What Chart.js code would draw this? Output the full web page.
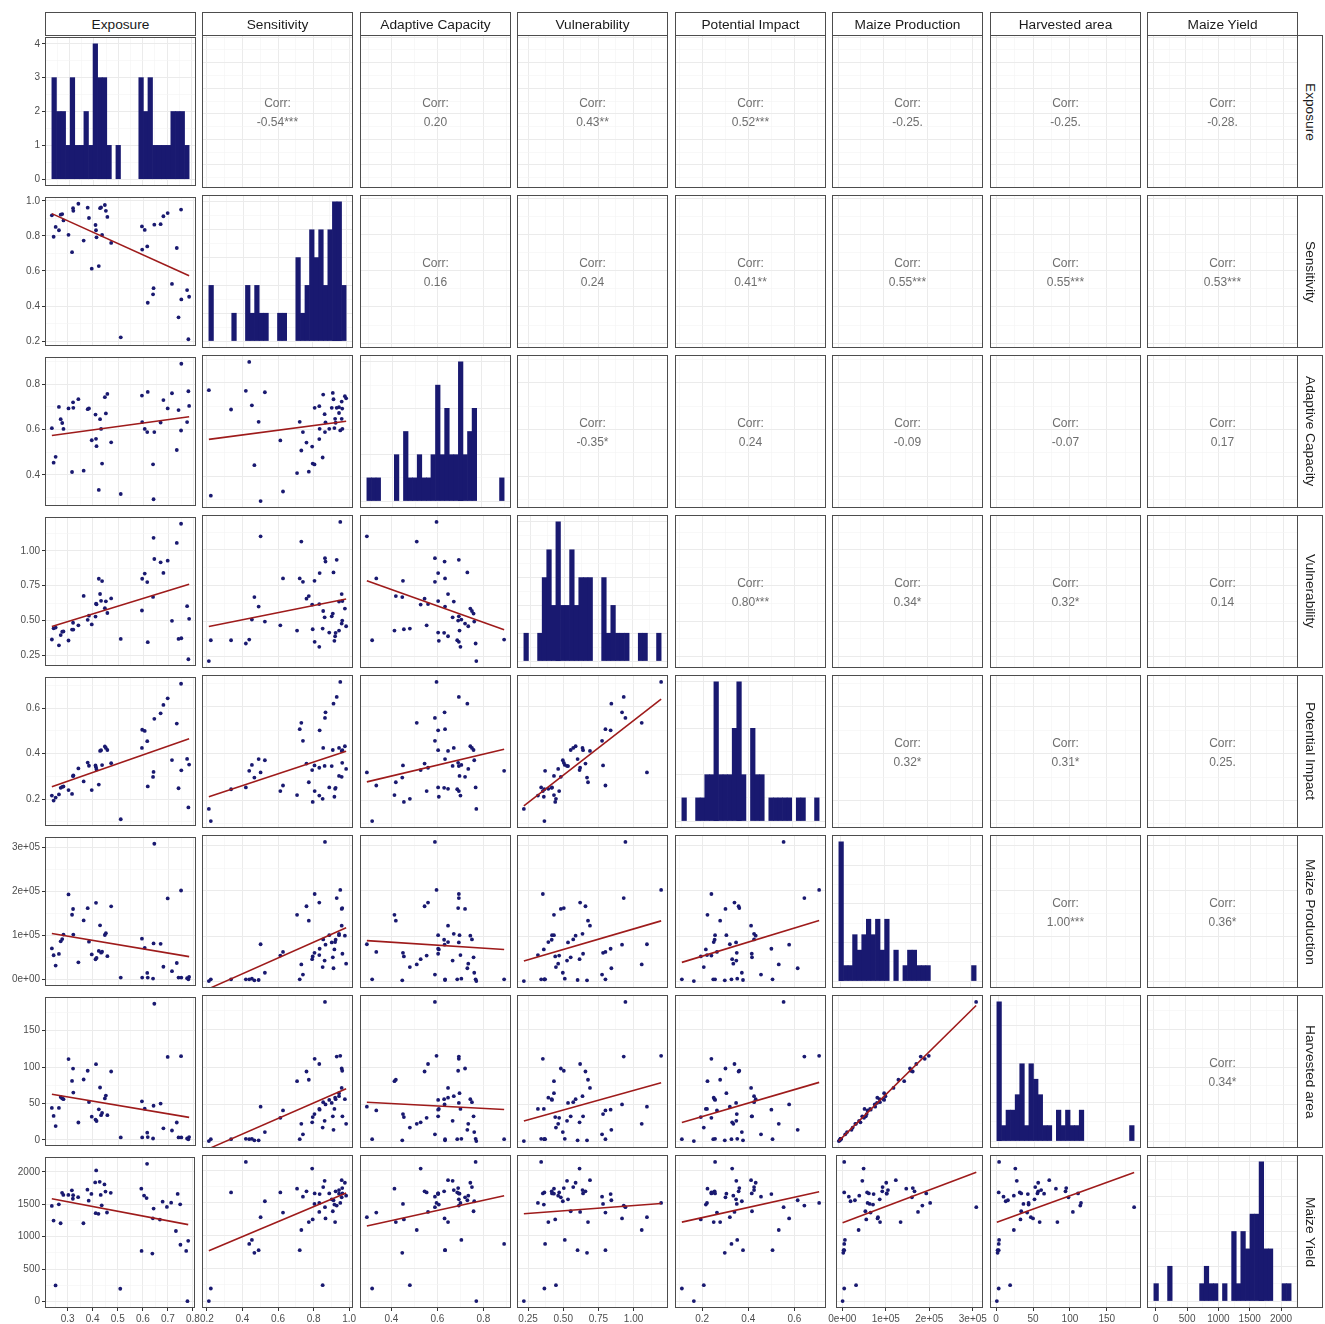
<!DOCTYPE html>
<html><head><meta charset="utf-8">
<script src="https://cdn.jsdelivr.net/npm/chart.js@4/dist/chart.umd.min.js"></script>
<style>
html,body{margin:0;padding:0;background:#fff;}
body{width:1325px;height:1324px;position:relative;overflow:hidden;font-family:"Liberation Sans",Arial,sans-serif;}
canvas{position:absolute;}
.strip{position:absolute;box-sizing:border-box;border:1px solid #4d4d4d;background:#fff;color:#1a1a1a;font-size:13.7px;display:flex;align-items:center;justify-content:center;white-space:nowrap;z-index:2;}
.strip.right{writing-mode:vertical-rl;}
.corr{position:absolute;text-align:center;color:#6e6e6e;font-size:12px;line-height:19px;z-index:3;}
</style></head><body>
<script>
// ---------------- DATA ----------------
const varNames = ["Exposure","Sensitivity","Adaptive Capacity","Vulnerability","Potential Impact","Maize Production","Harvested area","Maize Yield"];

const exposure = [0.237,0.244,0.252,0.265,0.272,0.278,0.283,0.303,0.317,0.321,0.322,0.342,0.363,0.379,0.384,0.395,0.410,0.412,0.414,0.423,0.428,0.432,0.436,0.447,0.451,0.457,0.472,0.510,0.594,0.595,0.605,0.615,0.617,0.638,0.640,0.643,0.668,0.679,0.696,0.713,0.732,0.739,0.749,0.750,0.773,0.778,0.781];
const sensitivity = [0.917,0.795,0.851,0.832,0.921,0.924,0.888,0.806,0.707,0.958,0.943,0.983,0.773,0.961,0.902,0.613,0.862,0.832,0.792,0.628,0.958,0.962,0.805,0.976,0.943,0.908,0.760,0.222,0.854,0.722,0.834,0.740,0.419,0.467,0.502,0.864,0.867,0.912,0.930,0.526,0.731,0.336,0.950,0.438,0.491,0.211,0.453];
const adaptiveCapacity = [0.606,0.454,0.480,0.700,0.646,0.629,0.603,0.693,0.413,0.720,0.696,0.734,0.419,0.690,0.693,0.553,0.666,0.559,0.527,0.334,0.646,0.603,0.450,0.743,0.671,0.757,0.544,0.316,0.750,0.633,0.603,0.589,0.766,0.447,0.293,0.589,0.631,0.730,0.693,0.760,0.510,0.686,0.596,0.890,0.633,0.769,0.704];
const vulnerability = [0.362,0.443,0.448,0.320,0.394,0.418,0.420,0.355,0.434,0.483,0.434,0.464,0.676,0.504,0.534,0.471,0.527,0.620,0.616,0.800,0.690,0.641,0.783,0.588,0.637,0.553,0.658,0.366,0.571,0.800,0.837,0.776,0.343,0.669,1.095,0.942,0.918,0.842,0.930,0.497,1.058,0.366,1.196,0.371,0.602,0.220,0.511];
const potentialImpact = [0.216,0.194,0.207,0.221,0.250,0.254,0.256,0.240,0.223,0.301,0.305,0.335,0.278,0.361,0.347,0.240,0.348,0.340,0.330,0.264,0.412,0.415,0.350,0.432,0.425,0.416,0.358,0.112,0.425,0.505,0.500,0.455,0.256,0.298,0.320,0.553,0.577,0.614,0.643,0.372,0.532,0.248,0.707,0.327,0.377,0.164,0.352];
const maizeProduction = [70600,55100,31600,58100,86800,91900,102000,193000,147000,160000,102000,39000,134000,162000,86000,57000,46000,174000,49000,65000,123000,61000,63000,101000,105000,53000,166000,4400,92600,4400,72000,15000,4400,2200,82000,308000,81000,29000,184000,19000,37500,4400,202000,4400,3000,700,6000];
const harvestedArea = [44,33,19,44,59,57,56,111,81,98,65,24,83,95,52,32,28,104,26,42,72,34,37,57,61,34,94,3.5,53,3.5,43,10,4,2,47,187,50,16,114,13,24,3.5,115,3.5,2,1,4];
const maizeYield = [1475,1249,247,1500,1208,1677,1646,1646,1717,1586,1641,1611,1208,1727,1556,1661,1838,1364,2024,1354,1848,1646,1485,1808,1697,1374,1677,196,1742,780,1636,1596,2125,740,1284,1435,1264,1541,1460,1526,1088,1661,1500,876,780,5,937];

// histogram counts (30 bins each)
const exposureCounts      = [3,2,2,1,3,1,1,2,1,4,3,3,1,0,1,0,0,0,0,3,2,3,1,1,1,1,2,2,2,1];
const sensitivityCounts   = [2,0,0,0,0,1,0,0,2,1,2,1,1,0,0,1,1,0,0,3,1,2,4,3,4,2,4,5,5,2];
const adaptiveCounts      = [1,1,1,0,0,0,2,0,3,1,1,2,1,1,2,5,2,4,2,2,6,2,3,4,0,0,0,0,0,1];
const vulnerabilityCounts = [1,0,0,1,3,4,2,5,2,2,4,2,3,3,3,0,0,3,1,2,1,1,1,0,0,1,1,0,0,1];
const impactCounts        = [1,0,0,1,1,2,2,6,2,2,2,4,6,2,0,4,2,2,0,1,1,1,1,1,0,1,1,0,0,1];
const productionCounts    = [9,1,1,3,2,3,4,3,4,2,4,0,2,0,1,2,2,1,1,1,0,0,0,0,0,0,0,0,0,1];
const harvestCounts       = [9,1,2,2,3,5,1,5,4,3,1,1,0,2,1,2,1,1,2,0,0,0,0,0,0,0,0,0,0,1];
const yieldCounts         = [1,0,0,2,0,0,0,0,0,0,1,2,1,1,0,1,0,4,1,4,3,5,5,8,3,3,0,0,1,1];

// axis tick values and labels
const exposureTicks = [0.3,0.4,0.5,0.6,0.7,0.8];
const exposureTickLabels = ["0.3","0.4","0.5","0.6","0.7","0.8"];
const sensitivityTicks = [0.2,0.4,0.6,0.8,1.0];
const sensitivityTickLabels = ["0.2","0.4","0.6","0.8","1.0"];
const adaptiveTicks = [0.4,0.6,0.8];
const adaptiveTickLabels = ["0.4","0.6","0.8"];
const vulnerabilityTicks = [0.25,0.5,0.75,1.0];
const vulnerabilityTickLabels = ["0.25","0.50","0.75","1.00"];
const impactTicks = [0.2,0.4,0.6];
const impactTickLabels = ["0.2","0.4","0.6"];
const productionTicks = [0,100000,200000,300000];
const productionTickLabels = ["0e+00","1e+05","2e+05","3e+05"];
const harvestTicks = [0,50,100,150];
const harvestTickLabels = ["0","50","100","150"];
const yieldTicks = [0,500,1000,1500,2000];
const yieldTickLabels = ["0","500","1000","1500","2000"];

// correlation labels (upper triangle, row by row)
const corrRow1 = ["-0.54***","0.20","0.43**","0.52***","-0.25.","-0.25.","-0.28."];
const corrRow2 = ["0.16","0.24","0.41**","0.55***","0.55***","0.53***"];
const corrRow3 = ["-0.35*","0.24","-0.09","-0.07","0.17"];
const corrRow4 = ["0.80***","0.34*","0.32*","0.14"];
const corrRow5 = ["0.32*","0.31*","0.25."];
const corrRow6 = ["1.00***","0.36*"];
const corrRow7 = ["0.34*"];

// ---------------- SETUP ----------------
const variables = [exposure,sensitivity,adaptiveCapacity,vulnerability,potentialImpact,maizeProduction,harvestedArea,maizeYield];
const histCounts = [exposureCounts,sensitivityCounts,adaptiveCounts,vulnerabilityCounts,impactCounts,productionCounts,harvestCounts,yieldCounts];
const tickVals = [exposureTicks,sensitivityTicks,adaptiveTicks,vulnerabilityTicks,impactTicks,productionTicks,harvestTicks,yieldTicks];
const tickLabs = [exposureTickLabels,sensitivityTickLabels,adaptiveTickLabels,vulnerabilityTickLabels,impactTickLabels,productionTickLabels,harvestTickLabels,yieldTickLabels];
const corrRows = [corrRow1,corrRow2,corrRow3,corrRow4,corrRow5,corrRow6,corrRow7];

const FONT = '"Liberation Sans", Arial, sans-serif';
const NAVY = '#191970';
const RED = '#9E1B1B';
const colLeft = [45,202,360,517,675,832,990,1147];
const rowTop = [35,195,355,515,675,835,995,1155];
const PW = 151, PH = 153;
const N = 8;

function dataLimits(arr){
  const mn = Math.min(...arr), mx = Math.max(...arr), e = (mx-mn)*0.05;
  return [mn-e, mx+e];
}
function histInfo(arr){
  const mn = Math.min(...arr), mx = Math.max(...arr);
  const w = (mx-mn)/29, lo = mn - w/2, hi = mx + w/2, e = (hi-lo)*0.05;
  return {w, lo, hi, lim:[lo-e, hi+e]};
}
function buildTicks(majors, labels, min, max){
  const step = majors.length>1 ? majors[1]-majors[0] : 1;
  const eps = Math.abs(step)*1e-6;
  const out = [];
  majors.forEach((m,i)=>{ if(m>=min-eps && m<=max+eps) out.push({v:m,major:true,label:labels[i]}); });
  for(let k=-1;k<majors.length;k++){
    const v = majors[0] + step*(k+0.5);
    if(v>=min && v<=max) out.push({v,major:false,label:''});
  }
  out.sort((a,b)=>a.v-b.v);
  return out;
}
function countMajors(maxC){
  const step = maxC<=5 ? 1 : (maxC<=8 ? 2 : 2.5);
  const v=[]; for(let x=0;x<=maxC*1.05+1e-9;x+=step) v.push(x);
  return v;
}
function scaleCfg(axis, lim, tk, showLabels, fixed){
  return {
    type:'linear', position: axis==='x'?'bottom':'left', min:lim[0], max:lim[1], offset:false,
    afterBuildTicks: sc => { sc.ticks = tk.map(t=>({value:t.v})); },
    afterFit: sc => { if(axis==='x') sc.height = fixed; else sc.width = fixed; },
    grid:{
      offset:false, drawOnChartArea:true,
      color: ctx => (tk[ctx.index] && tk[ctx.index].major) ? '#EBEBEB' : '#F3F3F3',
      lineWidth: ctx => (tk[ctx.index] && tk[ctx.index].major) ? 1 : 0.6,
      drawTicks: showLabels, tickLength:3, tickWidth:1,
      tickColor: ctx => (tk[ctx.index] && tk[ctx.index].major) ? '#333333' : 'rgba(0,0,0,0)'
    },
    border:{display:false},
    ticks:{display:showLabels, autoSkip:false, maxRotation:0, minRotation:0, padding:2,
      color:'#4D4D4D', font:{family:FONT,size:10},
      callback:(v,i)=> tk[i] ? tk[i].label : ''}
  };
}
const borderPlugin = {
  id:'panelBorder',
  afterDraw(chart){
    const {ctx, chartArea:a} = chart;
    ctx.save(); ctx.strokeStyle='#4D4D4D'; ctx.lineWidth=1;
    ctx.strokeRect(Math.round(a.left)+0.5, Math.round(a.top)+0.5, Math.round(a.right-a.left)-1, Math.round(a.bottom-a.top)-1);
    ctx.restore();
  }
};
function regression(xs, ys){
  const n=xs.length; let sx=0,sy=0,sxx=0,sxy=0;
  for(let i=0;i<n;i++){sx+=xs[i];sy+=ys[i];sxx+=xs[i]*xs[i];sxy+=xs[i]*ys[i];}
  const b=(n*sxy-sx*sy)/(n*sxx-sx*sx), a=(sy-b*sx)/n;
  const x0=Math.min(...xs), x1=Math.max(...xs);
  return [{x:x0,y:a+b*x0},{x:x1,y:a+b*x1}];
}

function makePanel(r,c){
  const M = 6;
  const left = c===0 ? 0 : colLeft[c]-M;
  const top = rowTop[r]-M;
  const right = colLeft[c]+PW+M;
  const bottom = r===N-1 ? 1324 : rowTop[r]+PH+M;
  const cv = document.createElement('canvas');
  cv.width = right-left; cv.height = bottom-top;
  cv.style.left = left+'px'; cv.style.top = top+'px';
  cv.style.width = (right-left)+'px'; cv.style.height = (bottom-top)+'px';
  document.body.appendChild(cv);

  const showY = c===0, showX = r===N-1;
  const padding = {left: c===0?0:M, top:M, right:M, bottom: r===N-1?0:M};
  let xLim, yLim, xTk, yTk, datasets, type;

  if(r===c){
    const h = histInfo(variables[c]);
    xLim = h.lim;
    xTk = buildTicks(tickVals[c], tickLabs[c], xLim[0], xLim[1]);
    const counts = histCounts[c];
    const maxC = Math.max(...counts);
    yLim = [-0.05*maxC, 1.05*maxC];
    const cm = countMajors(maxC);
    yTk = buildTicks(cm, cm.map(v=>String(v)), yLim[0], yLim[1]);
    type = 'bar';
    datasets = [{
      data: counts.map((cnt,i)=>({x:h.lo+h.w*(i+0.5), y:cnt})),
      backgroundColor: ctx => (ctx.raw && ctx.raw.y>0) ? NAVY : 'rgba(0,0,0,0)',
      borderWidth:0, barPercentage:1, categoryPercentage:1, grouped:false
    }];
  } else {
    xLim = dataLimits(variables[c]);
    yLim = dataLimits(variables[r]);
    xTk = buildTicks(tickVals[c], tickLabs[c], xLim[0], xLim[1]);
    yTk = buildTicks(tickVals[r], tickLabs[r], yLim[0], yLim[1]);
    type = 'scatter';
    datasets = [];
    if(r>c){
      const xs = variables[c], ys = variables[r];
      datasets.push({type:'line', data:regression(xs,ys), borderColor:RED, borderWidth:1.6,
        pointRadius:0, showLine:true, fill:false, order:0});
      datasets.push({data: xs.map((x,i)=>({x, y:ys[i]})), backgroundColor:NAVY,
        pointRadius:1.9, borderWidth:0, pointHoverRadius:1.9, order:1});
    }
  }

  new Chart(cv, {
    type,
    data:{datasets},
    options:{
      responsive:false, animation:false, devicePixelRatio:1, events:[],
      layout:{padding},
      plugins:{legend:{display:false}, tooltip:{enabled:false}},
      scales:{
        x: scaleCfg('x', xLim, xTk, showX, showX?16:0),
        y: scaleCfg('y', yLim, yTk, showY, showY?45:0)
      }
    },
    plugins:[borderPlugin]
  });

  if(r<c){
    const d = document.createElement('div');
    d.className='corr';
    d.style.left = colLeft[c]+'px'; d.style.width = PW+'px';
    d.style.top = (rowTop[r]+PH/2-17.5)+'px'; d.style.height='38px';
    d.innerHTML = 'Corr:<br>' + corrRows[r][c-r-1];
    document.body.appendChild(d);
  }
}

for(let r=0;r<N;r++) for(let c=0;c<N;c++) makePanel(r,c);

// strips
for(let c=0;c<N;c++){
  const s=document.createElement('div'); s.className='strip';
  s.style.left=colLeft[c]+'px'; s.style.top='12px'; s.style.width=PW+'px'; s.style.height='24px';
  s.textContent=varNames[c]; document.body.appendChild(s);
}
for(let r=0;r<N;r++){
  const s=document.createElement('div'); s.className='strip right';
  s.style.left=(colLeft[N-1]+PW-1)+'px'; s.style.top=rowTop[r]+'px'; s.style.width='26px'; s.style.height=PH+'px';
  s.textContent=varNames[r]; document.body.appendChild(s);
}
</script>
</body></html>
